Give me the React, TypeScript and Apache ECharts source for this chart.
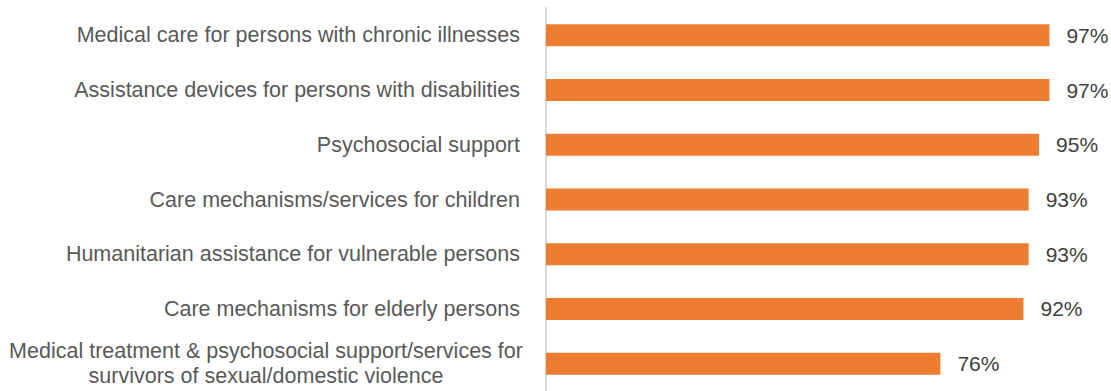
import React, { useEffect, useRef } from "react";
import * as echarts from "echarts";

const categories = [
  "Medical care for persons with chronic illnesses",
  "Assistance devices for persons with disabilities",
  "Psychosocial support",
  "Care mechanisms/services for children",
  "Humanitarian assistance for vulnerable persons",
  "Care mechanisms for elderly persons",
  "Medical treatment & psychosocial support/services for\nsurvivors of sexual/domestic violence",
];
const values = [97, 97, 95, 93, 93, 92, 76];

export default function App() {
  const ref = useRef<HTMLDivElement>(null);
  useEffect(() => {
    if (!ref.current) return;
    const chart = echarts.init(ref.current, undefined, { renderer: "svg" });
    const font = "'Liberation Sans', Arial, sans-serif";
    chart.setOption({
      animation: false,
      grid: { left: 546, top: 8, width: 519, height: 384, containLabel: false },
      xAxis: {
        type: "value",
        min: 0,
        max: 100,
        show: false,
      },
      yAxis: {
        type: "category",
        inverse: true,
        data: categories,
        axisLine: { show: true, lineStyle: { color: "#D9D9D9", width: 2 } },
        axisTick: { show: false },
        axisLabel: {
          margin: 26,
          color: "#595959",
          fontFamily: font,
          fontSize: 21.5,
          lineHeight: 25,
          formatter: (v: string) => {
            if (v.indexOf("\n") < 0) return v;
            return v
              .split("\n")
              .map((l) => "{c|" + l + "}")
              .join("\n");
          },
          rich: {
            c: {
              width: 508,
              align: "center",
              color: "#595959",
              fontFamily: font,
              fontSize: 21.5,
              lineHeight: 25,
            },
          },
        },
      },
      series: [
        {
          type: "bar",
          data: values,
          barWidth: 22,
          itemStyle: { color: "#ED7D31" },
          label: {
            show: true,
            position: "right",
            distance: 17,
            formatter: "{c}%",
            color: "#404040",
            fontFamily: font,
            fontSize: 21,
          },
        },
      ],
    });
    return () => chart.dispose();
  }, []);
  return (
    <div
      ref={ref}
      style={{ position: "fixed", left: 0, top: 0, width: 1111, height: 391, background: "#fff" }}
    />
  );
}
